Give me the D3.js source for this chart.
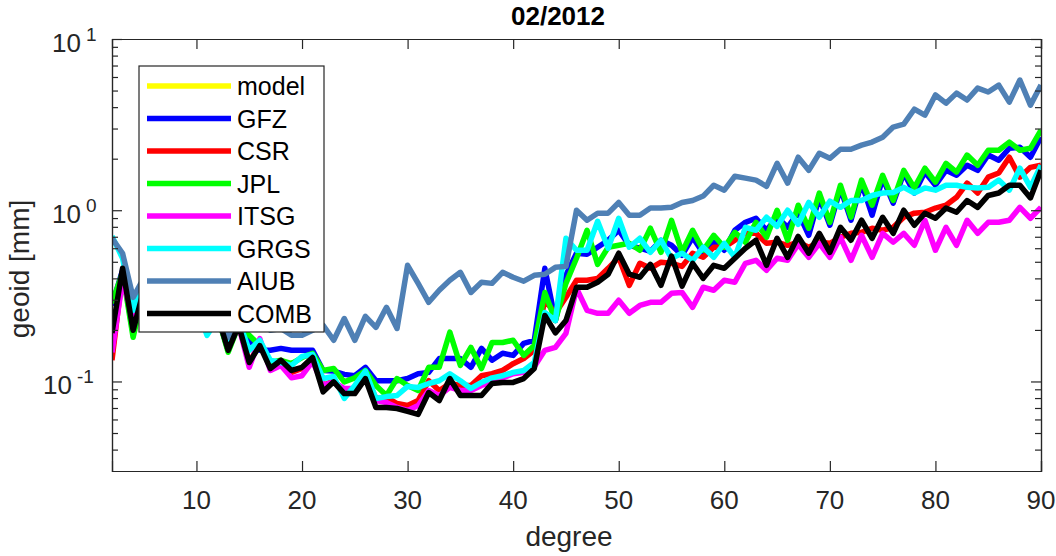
<!DOCTYPE html>
<html>
<head>
<meta charset="utf-8">
<script src="https://cdn.jsdelivr.net/npm/d3@7"></script>
<style>
  html, body { margin: 0; padding: 0; background: #fff; }
  svg { display: block; font-family: "Liberation Sans", Arial, Helvetica, sans-serif; }
</style>
</head>
<body>
<svg id="chart" width="1056" height="556"></svg>
<script>
// ---------------- data ----------------
const title = "02/2012";
const xLabel = "degree";
const yLabel = "geoid [mm]";
const startDegree = 2;
const xTicks = [10, 20, 30, 40, 50, 60, 70, 80, 90];
const yMajorTicks = [0.1, 1, 10];
const yTickExponents = ["-1", "0", "1"];

const seriesNames = ["model", "GFZ", "CSR", "JPL", "ITSG", "GRGS", "AIUB", "COMB"];
const seriesColors = ["#ffff00", "#0000ff", "#ff0000", "#00ff00", "#ff00ff", "#00ffff", "#4f80b5", "#000000"];

const model = [];
const GFZ = [0.278, 0.446, 0.192, 0.350, 0.306, 0.364, 0.290, 0.298, 0.267, 0.233,
  0.246, 0.152, 0.218, 0.174, 0.152, 0.152, 0.156, 0.152, 0.152, 0.152,
  0.116, 0.115, 0.110, 0.108, 0.121, 0.101, 0.101, 0.101, 0.104, 0.111,
  0.113, 0.136, 0.136, 0.136, 0.121, 0.156, 0.133, 0.146, 0.142, 0.167,
  0.174, 0.458, 0.227, 0.417, 0.561, 0.553, 0.608, 0.668, 0.764, 0.624,
  0.600, 0.575, 0.668, 0.624, 0.546, 0.695, 0.561, 0.668, 0.584, 0.764,
  0.850, 0.898, 0.764, 0.910, 0.795, 0.973, 0.714, 1.19, 0.817, 1.34,
  0.874, 1.44, 0.935, 1.54, 1.10, 1.65, 1.26, 1.67, 1.40, 1.71,
  1.60, 1.83, 1.71, 2.10, 1.96, 2.30, 2.33, 2.04, 2.67];
const CSR = [0.133, 0.434, 0.213, 0.331, 0.290, 0.350, 0.274, 0.290, 0.253, 0.221,
  0.237, 0.156, 0.213, 0.129, 0.167, 0.122, 0.133, 0.113, 0.119, 0.138,
  0.0948, 0.101, 0.0886, 0.091, 0.108, 0.0796, 0.0808, 0.0743, 0.0724, 0.0774,
  0.101, 0.0886, 0.0973, 0.0948, 0.0948, 0.108, 0.111, 0.116, 0.127, 0.136,
  0.152, 0.298, 0.250, 0.310, 0.390, 0.390, 0.400, 0.458, 0.531, 0.364,
  0.490, 0.458, 0.497, 0.490, 0.470, 0.561, 0.531, 0.608, 0.608, 0.668,
  0.733, 0.733, 0.641, 0.650, 0.624, 0.650, 0.608, 0.650, 0.641, 0.695,
  0.733, 0.743, 0.785, 0.764, 0.795, 0.910, 0.961, 0.973, 1.03, 1.07,
  1.19, 1.44, 1.26, 1.56, 1.65, 2.04, 1.56, 1.78, 1.83];
const JPL = [0.286, 0.434, 0.181, 0.341, 0.298, 0.364, 0.286, 0.298, 0.260, 0.233,
  0.243, 0.148, 0.213, 0.186, 0.162, 0.129, 0.133, 0.127, 0.138, 0.146,
  0.116, 0.119, 0.0995, 0.105, 0.116, 0.0948, 0.0828, 0.104, 0.0948, 0.0886,
  0.121, 0.121, 0.194, 0.124, 0.158, 0.119, 0.169, 0.169, 0.174, 0.142,
  0.162, 0.331, 0.227, 0.374, 0.524, 0.764, 0.483, 0.608, 0.624, 0.641,
  0.584, 0.785, 0.568, 0.874, 0.568, 0.764, 0.584, 0.714, 0.608, 0.743,
  0.650, 0.850, 0.695, 1.00, 0.668, 1.07, 0.785, 1.26, 0.850, 1.40,
  0.910, 1.50, 1.07, 1.60, 1.14, 1.71, 1.35, 1.76, 1.46, 1.88,
  1.67, 2.10, 1.83, 2.24, 2.24, 2.50, 2.24, 2.30, 2.94];
const ITSG = [0.148, 0.390, 0.233, 0.341, 0.298, 0.341, 0.278, 0.278, 0.253, 0.221,
  0.233, 0.162, 0.213, 0.121, 0.178, 0.116, 0.124, 0.105, 0.108, 0.131,
  0.0948, 0.0995, 0.091, 0.091, 0.105, 0.0774, 0.0754, 0.0705, 0.0677, 0.0724,
  0.0886, 0.0828, 0.0923, 0.0886, 0.0886, 0.0948, 0.0987, 0.105, 0.111, 0.113,
  0.122, 0.152, 0.158, 0.191, 0.350, 0.260, 0.250, 0.250, 0.298, 0.250,
  0.278, 0.290, 0.290, 0.327, 0.331, 0.271, 0.355, 0.341, 0.390, 0.380,
  0.490, 0.510, 0.446, 0.524, 0.510, 0.633, 0.531, 0.641, 0.531, 0.695,
  0.510, 0.714, 0.531, 0.733, 0.650, 0.733, 0.624, 0.874, 0.584, 0.795,
  0.624, 0.874, 0.733, 0.850, 0.850, 0.874, 1.04, 0.898, 1.04];
const GRGS = [0.705, 0.524, 0.260, 0.390, 0.341, 0.364, 0.318, 0.298, 0.278, 0.186,
  0.233, 0.162, 0.227, 0.152, 0.174, 0.133, 0.129, 0.124, 0.140, 0.144,
  0.104, 0.107, 0.0796, 0.0948, 0.115, 0.0796, 0.0816, 0.0828, 0.0935, 0.0923,
  0.0973, 0.101, 0.111, 0.101, 0.091, 0.0987, 0.105, 0.108, 0.113, 0.116,
  0.129, 0.253, 0.227, 0.686, 0.584, 0.584, 0.862, 0.600, 0.898, 0.608,
  0.686, 0.568, 0.668, 0.524, 0.561, 0.510, 0.608, 0.531, 0.641, 0.531,
  0.795, 0.764, 0.910, 0.805, 1.00, 0.828, 1.11, 0.910, 1.13, 1.04,
  1.14, 1.14, 1.22, 1.26, 1.27, 1.36, 1.26, 1.35, 1.31, 1.40,
  1.40, 1.36, 1.35, 1.36, 1.50, 1.31, 1.76, 1.36, 1.83];
const AIUB = [0.686, 0.561, 0.310, 0.400, 0.341, 0.364, 0.318, 0.298, 0.278, 0.260,
  0.253, 0.181, 0.243, 0.213, 0.221, 0.199, 0.204, 0.186, 0.186, 0.199,
  0.213, 0.174, 0.233, 0.174, 0.240, 0.207, 0.271, 0.204, 0.477, 0.374,
  0.290, 0.341, 0.390, 0.434, 0.331, 0.380, 0.374, 0.434, 0.406, 0.385,
  0.417, 0.423, 0.464, 0.470, 1.00, 0.874, 0.961, 0.961, 1.11, 0.935,
  0.935, 1.03, 1.03, 1.04, 1.11, 1.14, 1.21, 1.40, 1.31, 1.58,
  1.54, 1.50, 1.38, 1.88, 1.44, 2.04, 1.71, 2.15, 2.01, 2.27,
  2.27, 2.40, 2.50, 2.67, 3.06, 3.18, 3.89, 3.59, 4.71, 4.22,
  4.83, 4.40, 5.17, 4.90, 5.38, 4.28, 5.76, 4.11, 5.38];
const COMB = [0.192, 0.458, 0.199, 0.341, 0.298, 0.364, 0.278, 0.298, 0.260, 0.227,
  0.243, 0.152, 0.213, 0.129, 0.162, 0.119, 0.133, 0.116, 0.121, 0.138,
  0.087, 0.0995, 0.085, 0.085, 0.104, 0.0705, 0.0705, 0.0695, 0.0668, 0.0642,
  0.0862, 0.0774, 0.104, 0.0828, 0.0828, 0.0828, 0.0973, 0.0987, 0.0987, 0.104,
  0.119, 0.243, 0.192, 0.227, 0.355, 0.355, 0.380, 0.423, 0.561, 0.423,
  0.406, 0.483, 0.364, 0.539, 0.360, 0.490, 0.400, 0.477, 0.458, 0.524,
  0.600, 0.668, 0.477, 0.686, 0.531, 0.704, 0.561, 0.733, 0.568, 0.795,
  0.668, 0.874, 0.686, 0.910, 0.733, 1.00, 0.817, 0.961, 0.898, 1.03,
  0.973, 1.14, 1.04, 1.22, 1.26, 1.40, 1.40, 1.18, 1.71];

const seriesValues = [model, GFZ, CSR, JPL, ITSG, GRGS, AIUB, COMB];

// ---------------- layout ----------------
const axisColor = "#262626";
const pLeft = 112, pRight = 1041, pTop = 39, pBottom = 471;
const svg = d3.select("#chart");

const x = d3.scaleLinear().domain([2, 90]).range([pLeft, pRight]);
const y = d3.scaleLog().domain([0.03, 10]).range([pBottom, pTop]);

// clip
svg.append("defs").append("clipPath").attr("id", "clip")
  .append("rect").attr("x", pLeft).attr("y", pTop).attr("width", pRight - pLeft).attr("height", pBottom - pTop);

// lines
const line = d3.line().x(d => x(d[0])).y(d => y(d[1]));
const gLines = svg.append("g").attr("clip-path", "url(#clip)");
seriesValues.forEach((vals, i) => {
  if (!vals.length) return;
  const pts = vals.map((v, k) => [startDegree + k, v]);
  gLines.append("path")
    .attr("d", line(pts))
    .attr("fill", "none")
    .attr("stroke", seriesColors[i])
    .attr("stroke-width", 5.5)
    .attr("stroke-linejoin", "round")
    .attr("stroke-linecap", "butt");
});

// axes (MATLAB-like box with inward ticks)
const minorTicks = [];
[0.01, 0.1, 1].forEach(b => { for (let m = 2; m <= 9; m++) minorTicks.push(b * m); });
const yMinor = minorTicks.filter(v => v > 0.03 && v < 10);

const axL = d3.axisLeft(y).tickValues(yMajorTicks).tickSize(-10).tickFormat("");
const axR = d3.axisRight(y).tickValues(yMajorTicks).tickSize(-10).tickFormat("");
const axLm = d3.axisLeft(y).tickValues(yMinor).tickSize(-6).tickFormat("");
const axRm = d3.axisRight(y).tickValues(yMinor).tickSize(-6).tickFormat("");
const axB = d3.axisBottom(x).tickValues(xTicks).tickSize(-10).tickFormat("");
const axT = d3.axisTop(x).tickValues(xTicks).tickSize(-10).tickFormat("");

function styleAxis(g) {
  g.selectAll("path").attr("stroke", axisColor).attr("stroke-width", 1.2);
  g.selectAll("line").attr("stroke", axisColor).attr("stroke-width", 1.2);
}
svg.append("g").attr("transform", `translate(${pLeft},0)`).call(axL).call(styleAxis);
svg.append("g").attr("transform", `translate(${pLeft},0)`).call(axLm).call(styleAxis);
svg.append("g").attr("transform", `translate(${pRight},0)`).call(axR).call(styleAxis);
svg.append("g").attr("transform", `translate(${pRight},0)`).call(axRm).call(styleAxis);
svg.append("g").attr("transform", `translate(0,${pBottom})`).call(axB).call(styleAxis);
svg.append("g").attr("transform", `translate(0,${pTop})`).call(axT).call(styleAxis);

// x tick labels
svg.append("g").selectAll("text").data(xTicks).join("text")
  .attr("x", d => x(d)).attr("y", 509)
  .attr("text-anchor", "middle")
  .attr("font-size", 26).attr("fill", axisColor)
  .text(d => d);

// y tick labels 10^n (base and superscript)
const baseEnd = (i) => yTickExponents[i].length > 1 ? 72 : 81;
svg.append("g").selectAll("text").data(yMajorTicks).join("text")
  .attr("x", (d, i) => baseEnd(i)).attr("y", d => y(d) + 13)
  .attr("text-anchor", "end")
  .attr("font-size", 26).attr("fill", axisColor)
  .text("10");
svg.append("g").selectAll("text").data(yMajorTicks).join("text")
  .attr("x", (d, i) => baseEnd(i) + 5)
  .attr("y", d => y(d) + 2)
  .attr("text-anchor", "start")
  .attr("font-size", 19).attr("fill", axisColor)
  .text((d, i) => yTickExponents[i]);

// axis labels and title
svg.append("text").attr("x", 569).attr("y", 546).attr("text-anchor", "middle")
  .attr("font-size", 28).attr("fill", axisColor).text(xLabel);
svg.append("text").attr("transform", "translate(29,269) rotate(-90)").attr("text-anchor", "middle")
  .attr("font-size", 28).attr("fill", axisColor).text(yLabel);
svg.append("text").attr("x", 558).attr("y", 25).attr("text-anchor", "middle")
  .attr("font-size", 26).attr("font-weight", "bold").attr("fill", "#000").text(title);

// legend
const lg = svg.append("g");
lg.append("rect").attr("x", 139).attr("y", 66).attr("width", 185).attr("height", 266)
  .attr("fill", "#fff").attr("stroke", axisColor).attr("stroke-width", 1.2);
const legY = d3.scalePoint().domain(seriesNames).range([86, 313.5]);
seriesNames.forEach((name, i) => {
  const yy = legY(name);
  lg.append("line").attr("x1", 147).attr("x2", 231).attr("y1", yy).attr("y2", yy)
    .attr("stroke", seriesColors[i]).attr("stroke-width", 5.5);
  lg.append("text").attr("x", 237).attr("y", yy + 9)
    .attr("font-size", 25).attr("fill", "#000").text(name);
});
</script>
</body>
</html>
